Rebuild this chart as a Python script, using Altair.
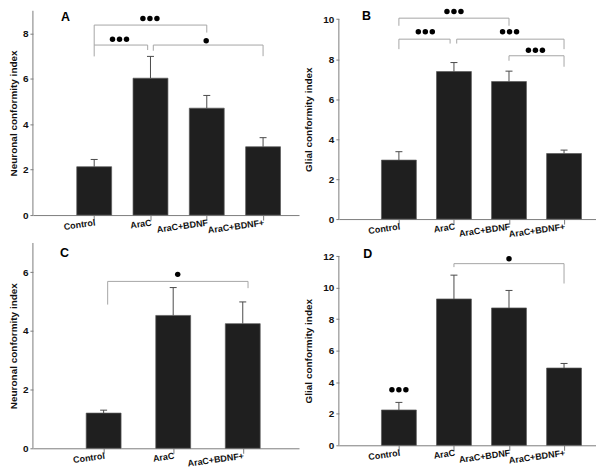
import altair as alt
import pandas as pd

FONT = "Liberation Sans"
AXIS_GRAY = "#7c7c7c"
ERR_GRAY = "#4a4a4a"
BRACKET_GRAY = "#a6a6a6"

cats_abd = ["Control", "AraC", "AraC+BDNF", "AraC+BDNF+"]
cats_c = ["Control", "AraC", "AraC+BDNF+"]

a_mean = [2.13, 6.03, 4.71, 3.01]
a_err = [0.32, 0.96, 0.56, 0.40]
b_mean = [2.95, 7.38, 6.88, 3.28]
b_err = [0.42, 0.45, 0.52, 0.17]
c_mean = [1.20, 4.53, 4.25]
c_err = [0.10, 0.95, 0.74]
d_mean = [2.24, 9.28, 8.71, 4.90]
d_err = [0.48, 1.51, 1.11, 0.29]

# significance brackets: (from group, to group, bracket level, left leg end, right leg end)
a_brackets = [(1.0, 3.0, 8.37, 7.49, 8.04), (1.0, 1.95, 7.49, 6.99, 7.27), (2.05, 4.0, 7.49, 7.24, 7.0)]
b_brackets = [(1.0, 3.0, 10.05, 9.67, 9.67), (1.0, 1.93, 9.0, 8.5, 8.78),
              (2.05, 4.0, 9.0, 8.78, 8.5), (3.0, 4.0, 8.17, 7.92, 7.62)]
c_brackets = [(1.058, 3.076, 5.69, 4.9, 5.46)]
d_brackets = [(2.0, 4.0, 11.52, 11.3, 10.26)]

# significance dots: (centre group, level, number of dots)
a_dots = [(1.99, 8.66, 3), (1.45, 7.75, 3), (2.99, 7.68, 1)]
b_dots = [(2.0, 10.38, 3), (1.48, 9.37, 3), (3.01, 9.37, 3), (3.48, 8.45, 3)]
c_dots = [(2.065, 5.93, 1)]
d_dots = [(3.0, 11.83, 1), (1.0, 3.52, 3)]


def panel(cats, means, errs, brackets, dots, letter, letter_xy, ytitle,
          width, height, xdom, ydom, ytop, yticks, title_x):
    n = len(cats)
    pos = list(range(1, n + 1))
    bars = pd.DataFrame({"pos": pos, "cat": cats, "mean": means,
                         "top": [m + e for m, e in zip(means, errs)]})
    xs = alt.Scale(domain=xdom, nice=False, zero=False)
    ys = alt.Scale(domain=[0, ydom], nice=False, zero=True)
    label_expr = "[" + ",".join("'%s'" % c for c in cats) + "][datum.value - 1]"
    xaxis = alt.Axis(values=pos, labelExpr=label_expr, title=None, grid=False,
                     labelAngle=352, labelAlign="right", labelBaseline="top",
                     labelPadding=-2, tickSize=5, labelFont=FONT, labelFontSize=9,
                     labelFontWeight="bold", labelColor="#111111",
                     domainColor=AXIS_GRAY, tickColor=AXIS_GRAY,
                     labelOverlap=False, labelFlush=False)
    title_y = height * (1 - (ytop / 2.0) / ydom)
    yaxis = alt.Axis(values=yticks, title=ytitle, grid=False, domain=False,
                     tickSize=3, labelPadding=2, labelFont=FONT, labelFontSize=10,
                     labelFontWeight="bold", labelColor="#111111", tickColor=AXIS_GRAY,
                     titleFont=FONT, titleFontSize=10, titleFontWeight="bold",
                     titleColor="#111111", titleX=title_x, titleY=title_y,
                     titleAngle=270, titleAlign="center", titleBaseline="bottom")

    def X(f):
        return alt.X(f, scale=xs, axis=xaxis)

    def Y(f):
        return alt.Y(f, scale=ys, axis=yaxis)

    base = alt.Chart(bars)
    bar = base.mark_bar(size=35, orient="vertical", color="#1f1f1f",
                        stroke="#5a5a5a", strokeWidth=0.7).encode(
        x=X("pos:Q"), y=Y("mean:Q"), y2=alt.datum(0),
    )
    err = base.mark_rule(color=ERR_GRAY, strokeWidth=1).encode(
        x=X("pos:Q"), y=Y("mean:Q"), y2="top:Q",
    )
    cap = base.mark_rule(color=ERR_GRAY, strokeWidth=1, xOffset=-3.5, x2Offset=3.5).encode(
        x=X("pos:Q"), x2="pos:Q", y=Y("top:Q"),
    )

    segs = []
    for x1, x2, lvl, l1, l2 in brackets:
        segs.append({"pos": x1, "xb": x2, "mean": lvl, "yb": lvl})
        segs.append({"pos": x1, "xb": x1, "mean": lvl, "yb": l1})
        segs.append({"pos": x2, "xb": x2, "mean": lvl, "yb": l2})
    brk = alt.Chart(pd.DataFrame(segs)).mark_rule(color=BRACKET_GRAY, strokeWidth=1).encode(
        x=X("pos:Q"), x2="xb:Q", y=Y("mean:Q"), y2="yb:Q",
    )

    px_per_unit = width / (xdom[1] - xdom[0])
    spacing = 7.3 / px_per_unit
    drows = []
    for cx, cy, cnt in dots:
        for k in range(cnt):
            drows.append({"pos": cx + (k - (cnt - 1) / 2.0) * spacing, "mean": cy})
    dot = alt.Chart(pd.DataFrame(drows)).mark_circle(size=30, color="#000000", opacity=1).encode(
        x=X("pos:Q"), y=Y("mean:Q"),
    )

    axis_line = alt.Chart(pd.DataFrame({"mean": [0], "y1": [ytop]})).mark_rule(
        color=AXIS_GRAY, strokeWidth=1).encode(
        x=alt.value(0), y=Y("mean:Q"), y2="y1:Q",
    )

    lab = alt.Chart(pd.DataFrame({"pos": [letter_xy[0]], "mean": [letter_xy[1]], "t": [letter]})).mark_text(
        font=FONT, fontSize=12.5, fontWeight="bold", align="center", baseline="alphabetic",
        color="#000000").encode(
        x=X("pos:Q"), y=Y("mean:Q"), text="t:N",
    )

    return alt.layer(bar, err, cap, brk, dot, axis_line, lab).properties(width=width, height=height)


pA = panel(cats_abd, a_mean, a_err, a_brackets, a_dots, "A", (0.49, 8.56),
           "Neuronal conformity index", 267, 205, [0, 4.55], 9, 9, [0, 2, 4, 6, 8], -14)
pB = panel(cats_abd, b_mean, b_err, b_brackets, b_dots, "B", (0.41, 9.97),
           "Glial conformity index", 258, 209, [0, 4.49], 10.42, 10, [0, 2, 4, 6, 8, 10], -25)
pC = panel(cats_c, c_mean, c_err, c_brackets, c_dots, "C", (0.437, 6.51),
           "Neuronal conformity index", 267, 206, [0.055, 3.737], 7, 7, [0, 2, 4, 6], -14)
pD = panel(cats_abd, d_mean, d_err, d_brackets, d_dots, "D", (0.435, 11.9),
           "Glial conformity index", 258, 203, [0, 4.49], 12.83, 12, [0, 2, 4, 6, 8, 10, 12], -25)

top = alt.hconcat(pA, pB, spacing=4)
bottom = alt.hconcat(pC, pD, spacing=4)
chart = alt.vconcat(top, bottom, spacing=3).properties(
    padding=0, background="white").configure_view(stroke=None)

chart.save("out.html", embed_options={"renderer": "svg", "actions": False})
